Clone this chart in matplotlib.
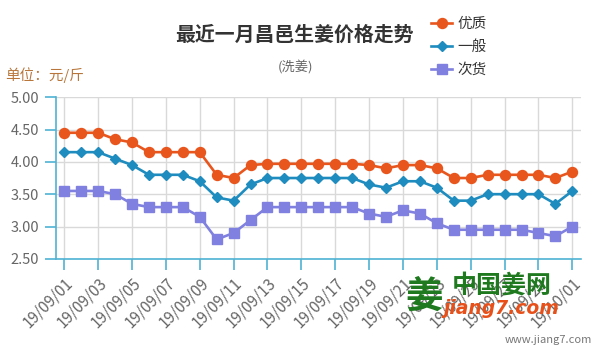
import matplotlib
matplotlib.use("Agg")
import matplotlib.pyplot as plt
from matplotlib.lines import Line2D

plt.rcParams['font.family'] = ['Noto Sans CJK SC', 'DejaVu Sans']

# Sept 1 .. Oct 1 2019, one point per day
dates = ['19/09/%02d' % d for d in range(1, 31)] + ['19/10/01']

premium = [4.45, 4.45, 4.45, 4.35, 4.30, 4.15, 4.15, 4.15, 4.15, 3.80,
           3.75, 3.95, 3.97, 3.97, 3.97, 3.97, 3.97, 3.97, 3.95, 3.90,
           3.95, 3.95, 3.90, 3.75, 3.75, 3.80, 3.80, 3.80, 3.80, 3.75,
           3.85]
ordinary = [4.15, 4.15, 4.15, 4.05, 3.95, 3.80, 3.80, 3.80, 3.70, 3.45,
            3.40, 3.65, 3.75, 3.75, 3.75, 3.75, 3.75, 3.75, 3.65, 3.60,
            3.70, 3.70, 3.60, 3.40, 3.40, 3.50, 3.50, 3.50, 3.50, 3.35,
            3.55]
inferior = [3.55, 3.55, 3.55, 3.50, 3.35, 3.30, 3.30, 3.30, 3.15, 2.80,
            2.90, 3.10, 3.30, 3.30, 3.30, 3.30, 3.30, 3.30, 3.20, 3.15,
            3.25, 3.20, 3.05, 2.95, 2.95, 2.95, 2.95, 2.95, 2.90, 2.85,
            3.00]

series_names = ['优质', '一般', '次货']
yticks = [2.5, 3.0, 3.5, 4.0, 4.5, 5.0]

axis_color = '#4fb3d3'
grid_color = '#d9d9d9'

fig = plt.figure(figsize=(6, 3.6), dpi=100)
ax = fig.add_axes([0.093, 0.281, 0.875, 0.449])

x = list(range(len(dates)))
ax.plot(x, premium, color='#e8561e', lw=1.9, marker='o', ms=7.2, zorder=3)
ax.plot(x, ordinary, color='#1e8cbf', lw=1.9, marker='D', ms=4.6, zorder=3)
ax.plot(x, inferior, color='#8080e0', lw=1.9, marker='s', ms=7.2, zorder=3)

ax.set_xlim(-0.5, 30.5)
ax.set_ylim(2.5, 5.0)
ax.set_yticks(yticks)
ax.set_yticklabels(['%.2f' % v for v in yticks])
ax.set_xticks(x[::2])
ax.set_xticklabels(dates[::2], rotation=45, ha='right', rotation_mode='anchor')

ax.grid(True, color=grid_color, lw=1)
ax.set_axisbelow(True)
for s in ['top', 'right']:
    ax.spines[s].set_visible(False)
for s in ['left', 'bottom']:
    ax.spines[s].set_color(axis_color)
    ax.spines[s].set_linewidth(1.2)
ax.tick_params(axis='both', colors=axis_color, length=8, width=1.2,
               labelcolor='#666666')
ax.tick_params(axis='x', pad=3, labelsize=11)
ax.tick_params(axis='y', pad=4, labelsize=10.5)

# titles
fig.text(0.49, 1 - 34 / 360, '最近一月昌邑生姜价格走势', ha='center', va='center',
         fontsize=14.3, fontweight='bold', color='#333333')
fig.text(0.493, 1 - 68 / 360, '(洗姜)', ha='center', va='center',
         fontsize=9.5, color='#666666')
fig.text(0.008, 1 - 75 / 360, '单位：元/斤', ha='left', va='center',
         fontsize=10.5, color='#b8763a')

# legend
handles = [
    Line2D([], [], color='#e8561e', lw=1.9, marker='o', ms=7.2),
    Line2D([], [], color='#1e8cbf', lw=1.9, marker='D', ms=4.6),
    Line2D([], [], color='#8080e0', lw=1.9, marker='s', ms=7.2),
]
fig.legend(handles, series_names, loc='upper left',
           bbox_to_anchor=(0.697, 1 - 4 / 360), frameon=False, fontsize=10.5,
           handlelength=1.4, handletextpad=0.4, labelspacing=0.62,
           labelcolor='#333333')

# watermark
fig.text(0.707, 1 - 296 / 360, '姜', ha='center', va='center', fontsize=27,
         fontweight='bold', color='#1f7a1f', zorder=5)
fig.text(0.837, 1 - 286 / 360, '中国姜网', ha='center', va='center',
         fontsize=18, fontweight='bold', color='#1f7a1f', zorder=5)
fig.text(0.835, 1 - 309 / 360, 'jiang7.com', ha='center', va='center',
         fontsize=13.5, fontweight='bold', fontstyle='italic', color='#e8501a',
         family='DejaVu Sans', zorder=5)
fig.text(0.987, 1 - 340 / 360, 'www.jiang7.com', ha='right', va='center',
         fontsize=8, color='#777777')

fig.savefig('out.png', dpi=100)
